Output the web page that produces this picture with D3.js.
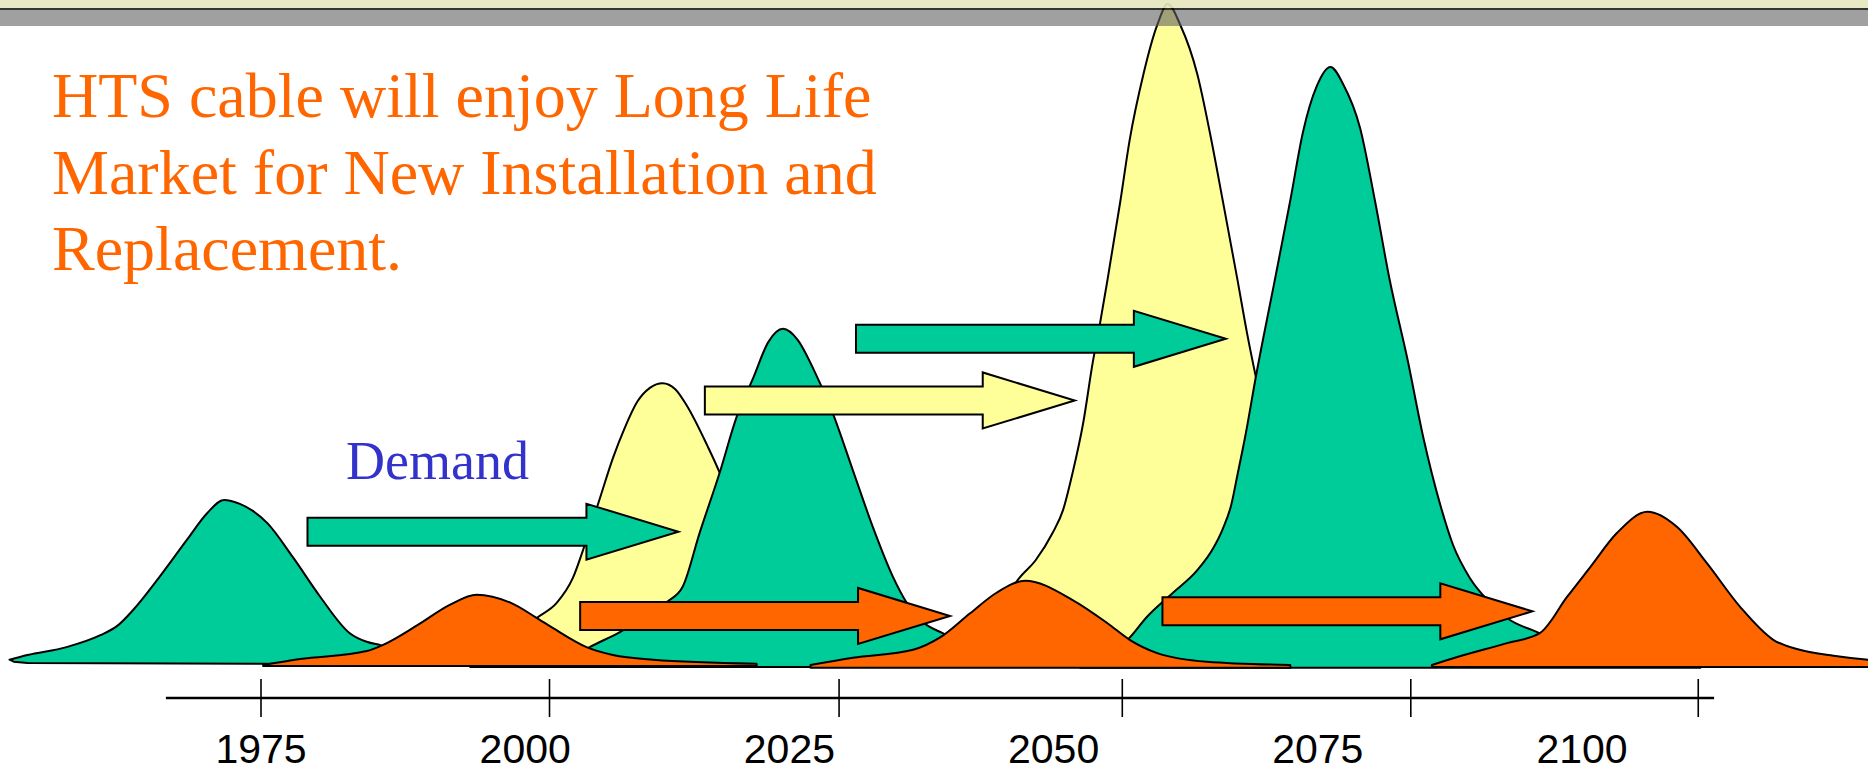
<!DOCTYPE html>
<html>
<head>
<meta charset="utf-8">
<script src="https://cdn.jsdelivr.net/npm/d3@7"></script>
<style>
  html, body { margin: 0; padding: 0; background: #ffffff; }
  svg { display: block; }
</style>
</head>
<body>
<svg id="chart" width="1868" height="772"></svg>
<script>
// ---- data -------------------------------------------------------------
// Year labels printed under the axis and the positions of the axis ticks.
const labelYears = [1975, 2000, 2025, 2050, 2075, 2100];
const tickYears = [1975, 2002.3, 2029.7, 2056.5, 2083.8, 2111];
const axisSpan = [1966, 2112.5];

// Demand waves: upper outline [year, demand index] and base line (right to left).
const greenWave1 = [[1951.2,1.1],[1952.9,1.8],[1956.6,3.0],[1959.8,4.8],[1961.4,6.2],[1962.9,8.6],[1965.4,13.6],[1968.0,19.2],[1969.9,23.2],[1971.5,25.2],[1973.0,24.6],[1975.6,21.7],[1978.0,16.6],[1980.6,10.6],[1983.4,5.1],[1985.0,3.8],[1986.3,3.3],[1990.0,1.8],[1994.8,0.8]];
const greenBase1 = [[1994.8,0.2],[1975.0,0.5],[1952.9,0.6],[1951.6,0.8]];

const yellowWave1 = [[1994.8,0.5],[1997.6,2.6],[1999.5,5.3],[2001.1,7.4],[2003.0,9.7],[2004.5,13.4],[2005.8,19.2],[2007.1,25.6],[2008.3,31.5],[2009.4,36.0],[2010.6,40.0],[2011.8,42.1],[2013.0,42.8],[2014.2,41.9],[2015.3,39.4],[2017.2,33.5],[2018.4,29.3],[2020.3,20.7],[2022.2,11.6],[2025.1,4.8],[2028.8,1.8],[2033.6,0.5]];
const yellowBase1 = [[2033.6,0.0],[1994.8,0.0]];

const greenWave2 = [[2003.3,0.5],[2006.1,3.0],[2009.0,5.3],[2013.4,9.8],[2014.9,12.1],[2016.5,20.2],[2018.4,29.3],[2020.0,37.7],[2021.6,43.7],[2023.0,49.0],[2024.4,51.0],[2025.8,49.3],[2027.2,45.2],[2029.1,38.3],[2031.0,29.7],[2032.9,21.1],[2034.8,13.6],[2036.1,9.7],[2037.4,7.1],[2039.5,5.1],[2043.0,2.9],[2046.8,1.4],[2052.5,0.5]];
const greenBase2 = [[2052.5,0.0],[2003.3,0.0]];

const orangeWave1 = [[1975.2,0.3],[1978.7,1.2],[1985.0,2.4],[1986.5,3.3],[1989.8,6.3],[1992.9,9.4],[1995.4,10.9],[1998.6,9.7],[2001.0,7.5],[2002.6,5.9],[2005.8,3.0],[2008.3,1.8],[2012.1,1.1],[2021.9,0.5]];
const orangeBase1 = [[2021.9,0.15],[1975.2,0.15]];

const yellowWave2 = [[2041.1,0.5],[2043.0,4.1],[2044.9,8.3],[2046.6,13.1],[2048.3,16.1],[2049.9,20.2],[2050.9,23.7],[2051.8,29.3],[2052.8,36.8],[2053.7,45.9],[2054.4,51.9],[2055.1,58.4],[2056.3,70.1],[2057.2,79.5],[2058.5,89.4],[2059.8,96.8],[2060.8,100.0],[2062.0,96.8],[2063.6,89.4],[2064.8,80.5],[2066.0,70.4],[2067.4,58.4],[2068.3,50.4],[2069.2,43.3],[2070.5,34.2],[2072.4,22.2],[2075.2,10.1],[2078.0,4.1],[2082.8,0.8]];
const yellowBase2 = [[2082.8,0.0],[2041.1,0.0]];

const greenWave3 = [[2052.5,0.5],[2055.3,2.3],[2057.0,4.1],[2058.8,7.5],[2061.3,11.2],[2063.6,14.6],[2065.1,17.9],[2066.0,20.8],[2066.8,24.4],[2067.4,29.0],[2068.1,34.5],[2069.2,44.3],[2070.8,57.3],[2072.4,70.4],[2073.6,80.7],[2074.9,87.6],[2076.2,90.5],[2077.4,87.9],[2079.0,81.3],[2080.4,70.4],[2081.8,58.4],[2083.5,46.3],[2085.0,34.5],[2086.6,24.4],[2087.8,18.4],[2089.4,13.4],[2091.3,9.7],[2092.9,7.4],[2095.7,5.3],[2098.9,3.3],[2103.6,1.4],[2111.2,0.3]];
const greenBase3 = [[2111.2,-0.1],[2052.5,-0.1]];

const orangeWave2 = [[2027.0,0.3],[2031.0,1.4],[2036.7,2.6],[2039.3,4.5],[2042.1,8.1],[2044.6,11.2],[2047.3,13.0],[2051.8,10.1],[2055.1,6.6],[2057.2,4.1],[2059.8,2.1],[2064.5,0.8],[2072.4,0.3]];
const orangeBase2 = [[2072.4,-0.1],[2027.0,-0.1]];

const orangeWave3 = [[2085.8,0.3],[2088.2,1.5],[2092.9,3.6],[2096.0,5.1],[2098.6,10.6],[2100.8,15.1],[2103.3,20.2],[2106.2,23.4],[2109.0,21.1],[2111.8,15.7],[2115.0,9.0],[2118.1,4.1],[2120.6,2.6],[2123.8,1.7],[2127.1,1.1],[2132.0,0.8]];
const orangeBase3 = [[2132.0,0.0],[2085.8,0.0]];

// Shift arrows: start year, end year, demand level, kind.
const shiftStart = [1979.4, 2017.0, 2031.3, 2005.2, 2060.3];
const shiftEnd   = [2014.5, 2052.0, 2066.3, 2040.2, 2095.3];
const shiftLevel = [20.4, 40.2, 49.5, 7.7, 8.4];
const shiftKind  = ["new", "replace", "new", "cable", "cable"];

const titleLines = ["HTS cable will enjoy Long Life", "Market for New Installation and", "Replacement."];
const demandLabel = "Demand";

// ---- styles -----------------------------------------------------------
const GREEN = "#00CC99", YELLOW = "#FFFF99", ORANGE = "#FF6600";
const kindColor = { new: GREEN, replace: YELLOW, cable: ORANGE };

// ---- scales -----------------------------------------------------------
const svg = d3.select("#chart");
const x = d3.scaleLinear().domain([1975, 2100]).range([261, 1582]);
const y = d3.scaleLinear().domain([0, 100]).range([667, 4]);

const outline = d3.line()
  .x(d => x(d[0])).y(d => y(d[1]))
  .curve(d3.curveMonotoneX);

function wavePath(top, base) {
  return outline(top) + base.map(d => `L${x(d[0])},${y(d[1])}`).join("") + "Z";
}

// ---- waves (back to front) -------------------------------------------
const waves = [
  [greenWave1, greenBase1, GREEN],
  [yellowWave1, yellowBase1, YELLOW],
  [greenWave2, greenBase2, GREEN],
  [orangeWave1, orangeBase1, ORANGE],
  [yellowWave2, yellowBase2, YELLOW],
  [greenWave3, greenBase3, GREEN],
  [orangeWave2, orangeBase2, ORANGE],
  [orangeWave3, orangeBase3, ORANGE]
];

svg.append("g").attr("class", "waves")
  .selectAll("path").data(waves).join("path")
  .attr("d", d => wavePath(d[0], d[1]))
  .attr("fill", d => d[2])
  .attr("stroke", "#000")
  .attr("stroke-width", 2)
  .attr("stroke-linejoin", "round");

// ---- shift arrows -----------------------------------------------------
const shaftHalf = 14, headHalf = 28, headLen = 92;
const shifts = shiftStart.map((s, i) => ({ s, e: shiftEnd[i], v: shiftLevel[i], k: shiftKind[i] }));

svg.append("g").attr("class", "shifts")
  .selectAll("path").data(shifts).join("path")
  .attr("d", d => {
    const x0 = x(d.s), x1 = x(d.e), yc = y(d.v), hx = x1 - headLen;
    return `M${x0},${yc - shaftHalf}L${hx},${yc - shaftHalf}L${hx},${yc - headHalf}` +
           `L${x1},${yc}L${hx},${yc + headHalf}L${hx},${yc + shaftHalf}L${x0},${yc + shaftHalf}Z`;
  })
  .attr("fill", d => kindColor[d.k])
  .attr("stroke", "#000")
  .attr("stroke-width", 2)
  .attr("stroke-linejoin", "miter");

// ---- time axis --------------------------------------------------------
const axisY = 698;
const axis = svg.append("g").attr("class", "axis");
axis.append("line")
  .attr("x1", x(axisSpan[0])).attr("x2", x(axisSpan[1]))
  .attr("y1", axisY).attr("y2", axisY)
  .attr("stroke", "#000").attr("stroke-width", 2.5);
axis.selectAll("line.tick").data(tickYears).join("line")
  .attr("class", "tick")
  .attr("x1", d => x(d)).attr("x2", d => x(d))
  .attr("y1", axisY - 19).attr("y2", axisY + 19)
  .attr("stroke", "#000").attr("stroke-width", 1.6);
axis.selectAll("text").data(labelYears).join("text")
  .attr("x", d => x(d)).attr("y", 763)
  .attr("text-anchor", "middle")
  .attr("font-family", "'Liberation Sans', Arial, sans-serif")
  .attr("font-size", 41)
  .attr("fill", "#000")
  .text(d => d);

// ---- texts ------------------------------------------------------------
svg.append("g").attr("class", "title")
  .selectAll("text").data(titleLines).join("text")
  .attr("x", 52).attr("y", (d, i) => 117 + i * 76.5)
  .attr("font-family", "'Liberation Serif', 'Times New Roman', serif")
  .attr("font-size", 64)
  .attr("fill", ORANGE)
  .text(d => d);

svg.append("text")
  .attr("x", 346).attr("y", 479)
  .attr("font-family", "'Liberation Serif', 'Times New Roman', serif")
  .attr("font-size", 54)
  .attr("fill", "#3333CC")
  .text(demandLabel);

// ---- header band ------------------------------------------------------
const header = svg.append("g").attr("class", "header");
header.append("rect").attr("x", 0).attr("y", 0).attr("width", 1868).attr("height", 8)
  .attr("fill", "#E6E6C0").attr("fill-opacity", 0.92);
header.append("rect").attr("x", 0).attr("y", 8).attr("width", 1868).attr("height", 2)
  .attr("fill", "#111").attr("fill-opacity", 0.85);
header.append("rect").attr("x", 0).attr("y", 10).attr("width", 1868).attr("height", 16)
  .attr("fill", "#606060").attr("fill-opacity", 0.6);
</script>
</body>
</html>
